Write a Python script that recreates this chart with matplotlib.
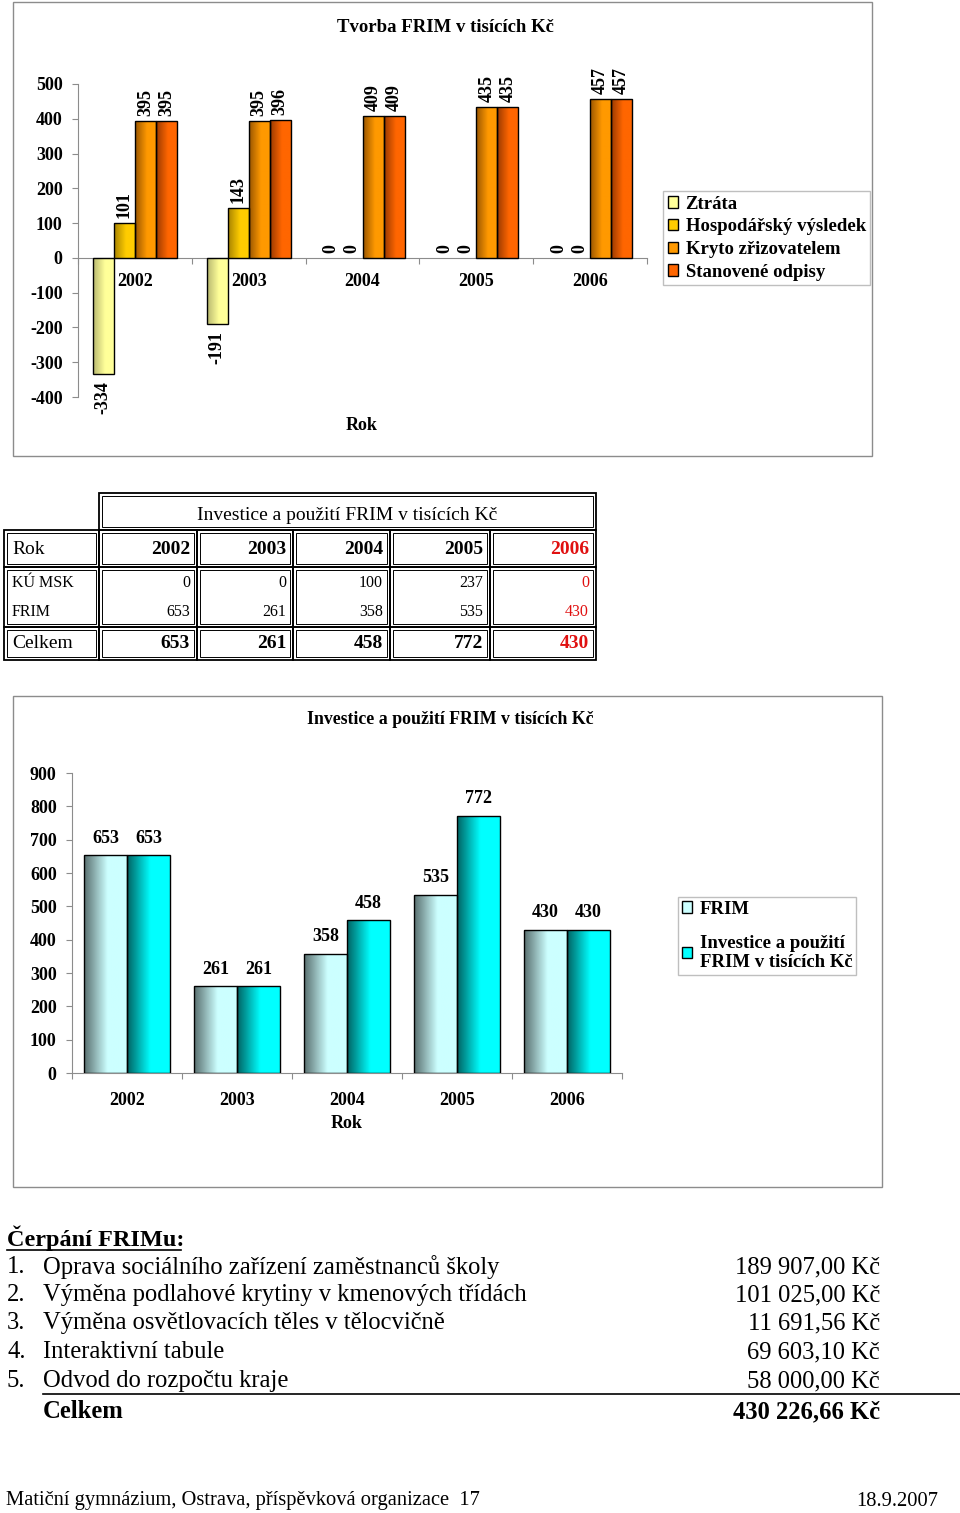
import numpy as np
import matplotlib
matplotlib.use("Agg")
import matplotlib.pyplot as plt
from matplotlib.patches import Rectangle, Patch
from matplotlib.colors import LinearSegmentedColormap

plt.rcParams["font.family"] = ["Liberation Serif", "DejaVu Serif"]
plt.rcParams["axes.unicode_minus"] = False

W, H = 960, 1513

# ---- data ----
years = ["2002", "2003", "2004", "2005", "2006"]

# chart 1: Tvorba FRIM
tv_series = ["Ztráta", "Hospodářský výsledek", "Kryto zřizovatelem", "Stanovené odpisy"]
ztrata = [-334, -191, 0, 0, 0]
hosp_vysledek = [101, 143, 0, 0, 0]
kryto = [395, 395, 409, 435, 457]
odpisy = [395, 396, 409, 435, 457]

# table
tab_rows = ["KÚ MSK", "FRIM"]
ku_msk = [0, 0, 100, 237, 0]
frim = [653, 261, 358, 535, 430]
celkem = [653, 261, 458, 772, 430]

# chart 2
ch2_series = ["FRIM", "Investice a použití\nFRIM v tisících Kč"]
ch2_frim = [653, 261, 358, 535, 430]
ch2_inv = [653, 261, 458, 772, 430]

# list
items = ["Oprava sociálního zařízení zaměstnanců školy",
         "Výměna podlahové krytiny v kmenových třídách",
         "Výměna osvětlovacích těles v tělocvičně",
         "Interaktivní tabule",
         "Odvod do rozpočtu kraje"]
amounts = ["189 907,00 Kč", "101 025,00 Kč", "11 691,56 Kč", "69 603,10 Kč", "58 000,00 Kč"]
total_amount = "430 226,66 Kč"

# (dark edge, light) gradient colours
C_TV = [("#b8b870", "#ffff99"), ("#a88400", "#ffcc00"),
        ("#9a5600", "#ff9900"), ("#9a3a00", "#ff6600")]
C_CH2 = [("#5a7070", "#ccffff"), ("#006464", "#00ffff")]
RED = "#e01010"
GRAY = "#8c8c8c"
FS_AX = 13      # chart tick / value labels
FS_TXT = 17.7   # body text

fig = plt.figure(figsize=(W / 100, H / 100), dpi=100)
pg = fig.add_axes([0, 0, 1, 1])
pg.set_xlim(0, W); pg.set_ylim(H, 0); pg.set_axis_off()


def px_axes(x0, y0, x1, y1):
    return fig.add_axes([x0 / W, 1 - y1 / H, (x1 - x0) / W, (y1 - y0) / H])


def shade(ax, bars, dark, light):
    cmap = LinearSegmentedColormap.from_list("g", [(0, dark), (0.55, light), (1, light)])
    grad = np.linspace(0, 1, 64).reshape(1, -1)
    for b in bars:
        h = b.get_height()
        if h == 0:
            b.set_visible(False)
            continue
        x, y, w = b.get_x(), b.get_y(), b.get_width()
        im = ax.imshow(grad, cmap=cmap, extent=(x, x + w, min(y, y + h), max(y, y + h)),
                       aspect="auto", interpolation="bilinear", zorder=2)
        im.set_clip_path(b)


def style_axes(ax, ylim, yticks, xpad):
    ax.set_ylim(*ylim)
    ax.set_xlim(-0.5, 4.5)
    ax.set_yticks(yticks)
    ax.set_xticks(np.arange(-0.5, 5, 1))
    ax.set_xticklabels([])
    ax.set_xticks(np.arange(5), minor=True)
    ax.set_xticklabels(years, minor=True, fontsize=FS_AX, fontweight="bold")
    ax.tick_params(axis="x", which="minor", length=0, pad=xpad)
    ax.tick_params(axis="x", which="major", length=4, direction="out", color=GRAY)
    ax.tick_params(axis="y", length=4, direction="out", color=GRAY, pad=7,
                   labelsize=FS_AX)
    for t in ax.get_yticklabels():
        t.set_fontweight("bold")
    for s in ["top", "right"]:
        ax.spines[s].set_visible(False)
    for s in ["left", "bottom"]:
        ax.spines[s].set_color(GRAY)
    ax.patch.set_alpha(0)


# ---------------- chart 1 ----------------
pg.add_patch(Rectangle((13, 2), 859, 454, fill=False, ec=GRAY, lw=1))
pg.text(445, 28, "Tvorba FRIM v tisících Kč", ha="center", va="center",
        fontsize=13.5, fontweight="bold")
ax1 = px_axes(78, 84, 647, 397)
ax1.spines["bottom"].set_position(("data", 0))
bw = 0.185
x = np.arange(len(years))
for k, vals in enumerate([ztrata, hosp_vysledek, kryto, odpisy]):
    bars = ax1.bar(x + (k - 1.5) * bw, vals, bw, facecolor="none", edgecolor="black",
                   lw=1, zorder=3)
    shade(ax1, bars, *C_TV[k])
    for xi, v in zip(x + (k - 1.5) * bw, vals):
        ax1.annotate(str(v), (xi, v), xytext=(0, 5 if v >= 0 else -7),
                     textcoords="offset pixels", rotation=90, ha="center",
                     va="bottom" if v >= 0 else "top", fontsize=FS_AX, fontweight="bold")
style_axes(ax1, (-400, 500), np.arange(-400, 501, 100), 11)
pg.text(362, 425, "Rok", ha="center", va="center", fontsize=FS_AX, fontweight="bold")
h1 = [Patch(facecolor=c[1], edgecolor="black", lw=1) for c in C_TV]
fig.legend(h1, tv_series, loc="upper left", bbox_to_anchor=(663 / W, 1 - 191 / H),
           borderaxespad=0, fancybox=False, edgecolor="#b0b0b0",
           prop=dict(family="Liberation Serif", weight="bold", size=13.5),
           handlelength=0.55, handleheight=0.55, handletextpad=0.4,
           labelspacing=0.3, borderpad=0.25)

# ---------------- table ----------------
col_edges = [4, 99, 197, 293, 390, 490, 596]
row_y = {"head": (493, 530), "rok": (530, 567), "data": (567, 627), "cel": (627, 660)}


def cell(x0, x1, y0, y1):
    pg.add_patch(Rectangle((x0, y0), x1 - x0, y1 - y0, fill=False, ec="black", lw=1.3))
    pg.add_patch(Rectangle((x0 + 3, y0 + 3), x1 - x0 - 6, y1 - y0 - 6, fill=False,
                           ec="black", lw=0.7))


cell(col_edges[1], col_edges[-1], *row_y["head"])
pg.text((col_edges[1] + col_edges[-1]) / 2, 515, "Investice a použití FRIM v tisících Kč",
        ha="center", va="center", fontsize=14)
for key in ["rok", "data", "cel"]:
    for c in range(6):
        cell(col_edges[c], col_edges[c + 1], *row_y[key])
pg.text(12, 549, "Rok", ha="left", va="center", fontsize=14)
pg.text(12, 644, "Celkem", ha="left", va="center", fontsize=14)
for i, yr in enumerate(years):
    xr = col_edges[i + 2] - 7
    col = RED if i == len(years) - 1 else "black"
    pg.text(xr, 549, yr, ha="right", va="center", fontsize=14, fontweight="bold", color=col)
    pg.text(xr, 583, str(ku_msk[i]), ha="right", va="center", fontsize=11.5, color=col)
    pg.text(xr, 612, str(frim[i]), ha="right", va="center", fontsize=11.5, color=col)
    pg.text(xr, 644, str(celkem[i]), ha="right", va="center", fontsize=14,
            fontweight="bold", color=col)
pg.text(12, 583, tab_rows[0], ha="left", va="center", fontsize=11.5)
pg.text(12, 612, tab_rows[1], ha="left", va="center", fontsize=11.5)

# ---------------- chart 2 ----------------
pg.add_patch(Rectangle((13, 696), 869, 491, fill=False, ec=GRAY, lw=1))
pg.text(450, 719, "Investice a použití FRIM v tisících Kč", ha="center", va="center",
        fontsize=12.8, fontweight="bold")
ax2 = px_axes(72, 773, 622, 1073)
bw2 = 0.39
for k, vals in enumerate([ch2_frim, ch2_inv]):
    xs = x + (k - 0.5) * bw2
    bars = ax2.bar(xs, vals, bw2, facecolor="none", edgecolor="black", lw=1, zorder=3)
    shade(ax2, bars, *C_CH2[k])
    for xi, v in zip(xs, vals):
        ax2.annotate(str(v), (xi, v), xytext=(0, 17), textcoords="offset pixels",
                     ha="center", va="center", fontsize=FS_AX, fontweight="bold")
style_axes(ax2, (0, 900), np.arange(0, 901, 100), 14)
pg.text(347, 1123, "Rok", ha="center", va="center", fontsize=FS_AX, fontweight="bold")
h2 = [Patch(facecolor=c[1], edgecolor="black", lw=1) for c in C_CH2]
fig.legend(h2, ch2_series, loc="upper left", bbox_to_anchor=(678 / W, 1 - 897 / H),
           borderaxespad=0, fancybox=False, edgecolor="#b0b0b0",
           prop=dict(family="Liberation Serif", weight="bold", size=13.5),
           handlelength=0.55, handleheight=0.55, handletextpad=0.4,
           labelspacing=0.9, borderpad=0.2)

# ---------------- list ----------------
pg.text(7, 1238, "Čerpání FRIMu:", ha="left", va="center", fontsize=17.5,
        fontweight="bold")
pg.plot([7, 181], [1250, 1250], color="black", lw=1.2)
ys = [1267, 1295, 1323, 1352, 1381]
for i, (it, am) in enumerate(zip(items, amounts)):
    pg.text(7, ys[i], f"{i + 1}.", ha="left", va="center", fontsize=FS_TXT)
    pg.text(43, ys[i], it, ha="left", va="center", fontsize=FS_TXT)
    pg.text(880, ys[i], am, ha="right", va="center", fontsize=FS_TXT)
pg.plot([43, 960], [1394, 1394], color="black", lw=1.2)
pg.text(43, 1412, "Celkem", ha="left", va="center", fontsize=FS_TXT, fontweight="bold")
pg.text(880, 1412, total_amount, ha="right", va="center", fontsize=FS_TXT, fontweight="bold")

# footer
pg.text(6, 1501, "Matiční gymnázium, Ostrava, příspěvková organizace  17", ha="left",
        va="center", fontsize=14.8)
pg.text(938, 1501, "18.9.2007", ha="right", va="center", fontsize=14.8)

fig.savefig("out.png", dpi=100, facecolor="white")
